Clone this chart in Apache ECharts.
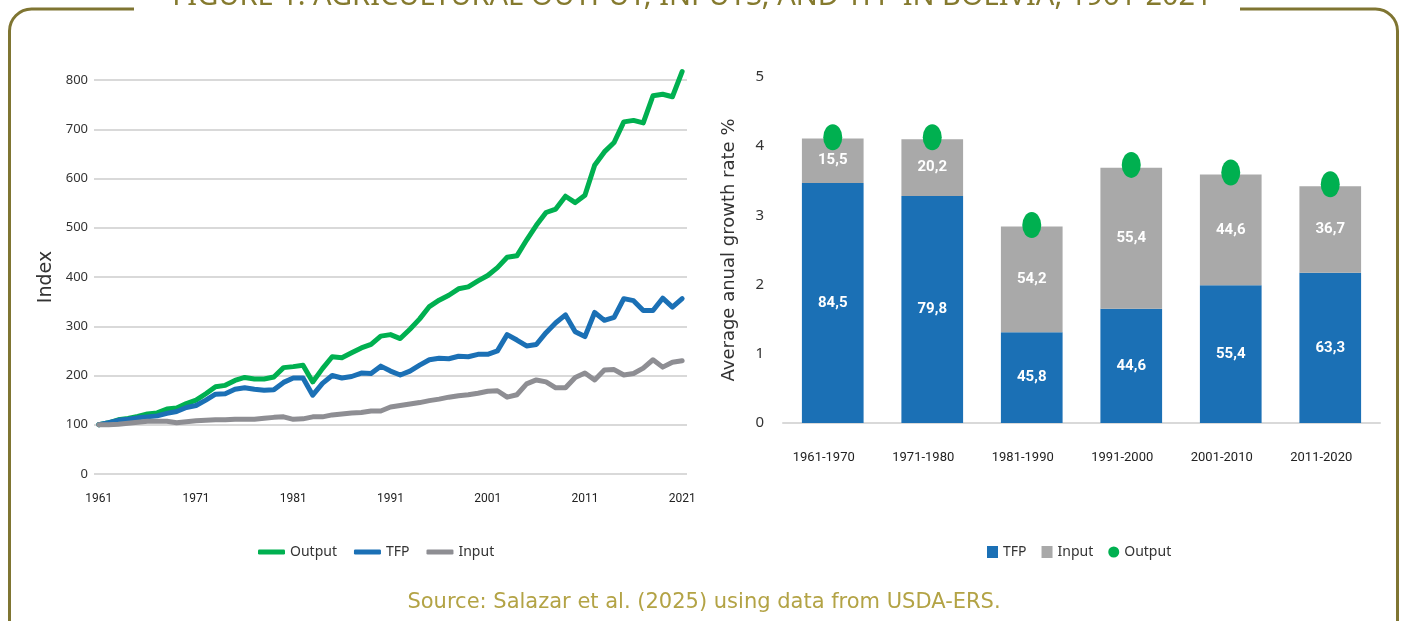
<!DOCTYPE html>
<html style="height: 100%">
<head>
<meta charset="utf-8">
<title>Agricultural output, inputs and TFP in Bolivia</title>
<script src="https://cdn.jsdelivr.net/npm/echarts@6/dist/echarts.min.js"></script>
</head>
<body style="height: 100%; margin: 0; background: #fff">
<div id="container" style="width: 1406px; height: 621px"></div>
<script type="text/javascript">
// left panel: index 1961 = 100
var years = [1961, 1962, 1963, 1964, 1965, 1966, 1967, 1968, 1969, 1970,
  1971, 1972, 1973, 1974, 1975, 1976, 1977, 1978, 1979, 1980,
  1981, 1982, 1983, 1984, 1985, 1986, 1987, 1988, 1989, 1990,
  1991, 1992, 1993, 1994, 1995, 1996, 1997, 1998, 1999, 2000,
  2001, 2002, 2003, 2004, 2005, 2006, 2007, 2008, 2009, 2010,
  2011, 2012, 2013, 2014, 2015, 2016, 2017, 2018, 2019, 2020, 2021];
var yearTicks = [1961, 1971, 1981, 1991, 2001, 2011, 2021];

var outputIndex = [100, 104, 110, 113, 117, 122, 124, 132, 134, 143,
  150, 163, 177, 180, 190, 196, 193, 193, 197, 216,
  218, 221, 187, 214, 238, 236, 246, 256, 263, 280,
  283, 275, 294, 315, 340, 353, 363, 376, 380, 392,
  403, 419, 440, 443, 475, 505, 531, 538, 564, 551,
  566, 627, 654, 673, 715, 718, 713, 768, 771, 766, 817];
var tfpIndex = [100, 104, 109, 111, 114, 116, 118, 123, 127, 135,
  139, 150, 162, 163, 172, 175, 172, 170, 171, 186,
  195, 195, 160, 184, 200, 195, 198, 205, 204, 219,
  209, 201, 209, 221, 232, 235, 234, 239, 238, 243,
  243, 250, 283, 272, 260, 263, 287, 307, 323, 289,
  279, 328, 312, 318, 356, 352, 332, 332, 357, 339, 356];
var inputIndex = [100, 100, 101, 103, 105, 107, 107, 107, 104, 106,
  108, 109, 110, 110, 111, 111, 111, 113, 115, 116,
  111, 112, 116, 116, 120, 122, 124, 125, 128, 128,
  136, 139, 142, 145, 149, 152, 156, 159, 161, 164,
  168, 169, 156, 161, 183, 191, 187, 175, 175, 196,
  205, 191, 211, 212, 201, 204, 215, 232, 217, 227, 230];

// right panel: average annual growth rate by decade
var periods = ['1961-1970', '1971-1980', '1981-1990', '1991-2000', '2001-2010', '2011-2020'];
var tfpGrowth = [3.47, 3.28, 1.31, 1.65, 1.99, 2.17];
var inputGrowth = [0.64, 0.82, 1.53, 2.04, 1.60, 1.25];
var outputGrowth = [4.13, 4.13, 2.86, 3.73, 3.62, 3.45];
var tfpShare = [84.5, 79.8, 45.8, 44.6, 55.4, 63.3];
var inputShare = [15.5, 20.2, 54.2, 55.4, 44.6, 36.7];

var GREEN = '#00b050', BLUE = '#1b70b5', DARKGREY = '#8e8e93', BARGREY = '#a9a9a9';
var NUMFONT = "Roboto, sans-serif";
var WIDE = "'DejaVu Sans', sans-serif";

function pairs(vals) {
  return years.map(function (y, i) { return [y, vals[i]]; });
}
function comma(v) {
  return v.toFixed(1).replace('.', ',');
}

var dom = document.getElementById('container');
var myChart = echarts.init(dom, null, { renderer: 'canvas' });

var lineStyle = function (c) {
  return { color: c, width: 5, cap: 'round', join: 'round' };
};

var option = {
  animation: false,
  textStyle: { fontFamily: "'Noto Sans', sans-serif" },
  graphic: [
    {
      type: 'rect', z: 0,
      shape: { x: 9.5, y: 9, width: 1388, height: 700, r: 22 },
      style: { fill: 'none', stroke: '#7f7532', lineWidth: 3 }
    },
    {
      type: 'rect', z: 1,
      shape: { x: 134, y: 0, width: 1106, height: 18 },
      style: { fill: '#fff' }
    },
    {
      type: 'text', z: 2, x: 692, y: -3,
      style: {
        text: 'FIGURE 1. AGRICULTURAL OUTPUT, INPUTS, AND TFP IN BOLIVIA, 1961-2021',
        fill: '#857a2e', font: "29px 'Noto Sans', sans-serif",
        textAlign: 'center', textVerticalAlign: 'middle'
      }
    },
    {
      type: 'text', z: 2, x: 704, y: 603,
      style: {
        text: 'Source: Salazar et al. (2025) using data from USDA-ERS.',
        fill: '#b3a345', font: "21px 'DejaVu Sans', sans-serif",
        textAlign: 'center', textVerticalAlign: 'middle'
      }
    }
  ],
  legend: [
    {
      left: 253, top: 540, itemWidth: 27, itemHeight: 5, itemGap: 17,
      textStyle: { fontSize: 14, color: '#333' },
      data: [
        { name: 'Output', icon: 'roundRect' },
        { name: 'TFP', icon: 'roundRect' },
        { name: 'Input', icon: 'roundRect' }
      ]
    },
    {
      left: 982, top: 540, itemWidth: 11, itemHeight: 12, itemGap: 15,
      textStyle: { fontSize: 14, color: '#333' },
      formatter: function (n) { return n.replace('_bar', ''); },
      data: [
        { name: 'TFP_bar', icon: 'rect' },
        { name: 'Input_bar', icon: 'rect' },
        { name: 'Output_bar', icon: 'circle' }
      ]
    }
  ],
  grid: [
    { left: 94, right: 719, top: 80, bottom: 147 },
    { left: 783, right: 26, top: 77, bottom: 198 }
  ],
  xAxis: [
    {
      gridIndex: 0, type: 'value', min: 1960.5, max: 2021.5,
      axisLine: { show: false }, axisTick: { show: false }, splitLine: { show: false },
      axisLabel: {
        customValues: yearTicks, fontFamily: NUMFONT, fontSize: 12, color: '#222', margin: 19,
        formatter: function (v) { return String(v); }
      }
    },
    {
      gridIndex: 1, type: 'category', data: periods,
      axisLine: { lineStyle: { color: '#d9d9d9', width: 2 } },
      axisTick: { show: false },
      axisLabel: { fontFamily: NUMFONT, fontSize: 13, color: '#222', margin: 28, padding: [0, 18, 0, 0] }
    }
  ],
  yAxis: [
    {
      gridIndex: 0, type: 'value', min: 0, max: 800, interval: 100,
      axisLine: { show: false }, axisTick: { show: false },
      splitLine: { lineStyle: { color: '#d9d9d9', width: 2 } },
      axisLabel: { fontSize: 13, color: '#333', margin: 6 },
      name: 'Index', nameLocation: 'middle', nameGap: 38,
      nameTextStyle: { fontSize: 19, color: '#333', fontFamily: WIDE }
    },
    {
      gridIndex: 1, type: 'value', min: 0, max: 5, interval: 1,
      axisLine: { show: false }, axisTick: { show: false }, splitLine: { show: false },
      axisLabel: { fontSize: 15, color: '#333', margin: 19 },
      name: 'Average anual growth rate %', nameLocation: 'middle', nameGap: 45,
      nameTextStyle: { fontSize: 18, color: '#333', fontFamily: WIDE }
    }
  ],
  series: [
    {
      name: 'Output', type: 'line', xAxisIndex: 0, yAxisIndex: 0,
      symbol: 'none', clip: false, color: GREEN, lineStyle: lineStyle(GREEN),
      data: pairs(outputIndex)
    },
    {
      name: 'TFP', type: 'line', xAxisIndex: 0, yAxisIndex: 0,
      symbol: 'none', clip: false, color: BLUE, lineStyle: lineStyle(BLUE),
      data: pairs(tfpIndex)
    },
    {
      name: 'Input', type: 'line', xAxisIndex: 0, yAxisIndex: 0,
      symbol: 'none', clip: false, color: DARKGREY, lineStyle: lineStyle(DARKGREY),
      data: pairs(inputIndex)
    },
    {
      name: 'TFP_bar', type: 'bar', stack: 'g', xAxisIndex: 1, yAxisIndex: 1,
      barWidth: '62%', color: BLUE,
      label: {
        show: true, position: 'inside', color: '#fff', fontWeight: 'bold',
        fontFamily: NUMFONT, fontSize: 15,
        formatter: function (p) { return comma(tfpShare[p.dataIndex]); }
      },
      data: tfpGrowth
    },
    {
      name: 'Input_bar', type: 'bar', stack: 'g', xAxisIndex: 1, yAxisIndex: 1,
      barWidth: '62%', color: BARGREY,
      label: {
        show: true, position: 'inside', color: '#fff', fontWeight: 'bold',
        fontFamily: NUMFONT, fontSize: 15,
        formatter: function (p) { return comma(inputShare[p.dataIndex]); }
      },
      data: inputGrowth
    },
    {
      name: 'Output_bar', type: 'scatter', xAxisIndex: 1, yAxisIndex: 1,
      symbol: 'circle', symbolSize: [19, 26], z: 5,
      itemStyle: { color: GREEN, opacity: 1 },
      data: outputGrowth
    }
  ]
};

if (option && typeof option === 'object') {
  myChart.setOption(option);
  window.onresize = function () {
    myChart.resize();
  };
}
</script>
</body>
</html>
